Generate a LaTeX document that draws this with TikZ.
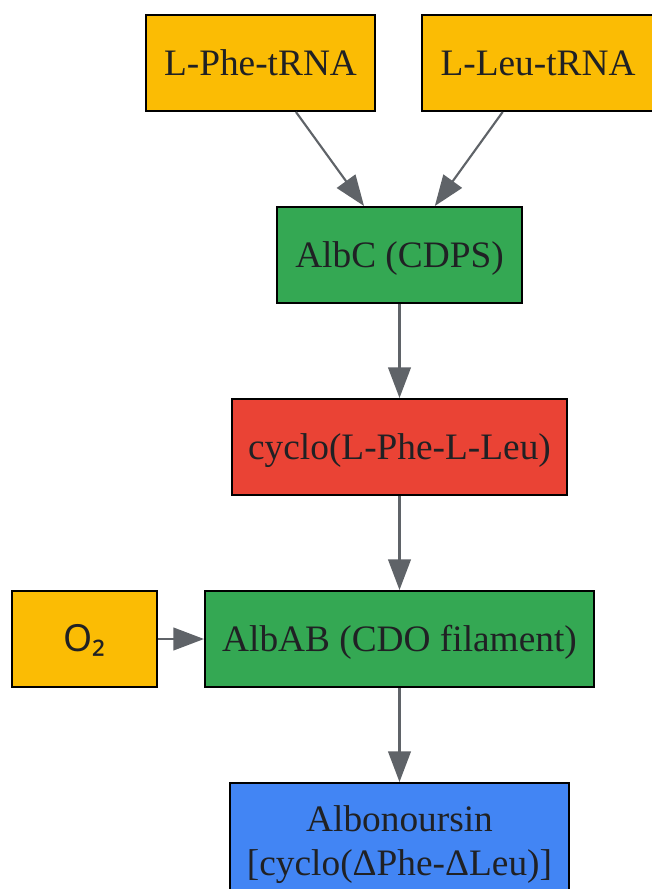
\documentclass[tikz,border=0pt]{standalone}
\usepackage{fontspec}
\setmainfont{Liberation Serif}
\newfontfamily\subsfont{Noto Sans}
\usetikzlibrary{arrows.meta}

\definecolor{substrate}{HTML}{FBBC04}
\definecolor{enzyme}{HTML}{34A853}
\definecolor{intermed}{HTML}{EA4335}
\definecolor{product}{HTML}{4285F4}
\definecolor{ink}{HTML}{202124}
\definecolor{edgegrey}{HTML}{5F6368}

\begin{document}
\begin{tikzpicture}[x=0.75pt,y=-0.75pt,
    box/.style={draw=black,line width=1.5pt,fill=#1,text=ink,
      minimum height=72pt,inner sep=0pt,
      text height=20pt,text depth=0.6pt,
      font=\fontsize{28}{33}\selectfont},
    flow/.style={draw=edgegrey,line width=1.6pt,
      -{Triangle[length=23pt,width=17pt]}}]
  \useasboundingbox (0,0) rectangle (652,889);

  % substrates
  \node[box=substrate,minimum width=171.75pt] (phe) at (260.5,63) {L-Phe-tRNA};
  \node[box=substrate,minimum width=174pt] (leu) at (538,63) {L-Leu-tRNA};
  \node[box=substrate,minimum width=108.75pt] (otwo) at (84.5,639) {\subsfont O₂};

  % main pathway
  \node[box=enzyme,minimum width=183.75pt] (albc) at (399.5,255) {AlbC (CDPS)};
  \node[box=intermed,minimum width=251.25pt] (cfl) at (399.5,447) {cyclo(L-Phe-L-Leu)};
  \node[box=enzyme,minimum width=291.75pt] (albab) at (399.5,639) {AlbAB (CDO filament)};
  \node[box=product,minimum width=254.25pt,minimum height=93pt,align=center,
    text height=,text depth=] (albo) at (399.5,845)
    {Albonoursin\\{}[cyclo(ΔPhe-ΔLeu)]};

  \foreach \src/\dst in {phe/albc,leu/albc,albc/cfl,cfl/albab,otwo/albab,albab/albo}
    \draw[flow] (\src) -- (\dst);
\end{tikzpicture}
\end{document}
